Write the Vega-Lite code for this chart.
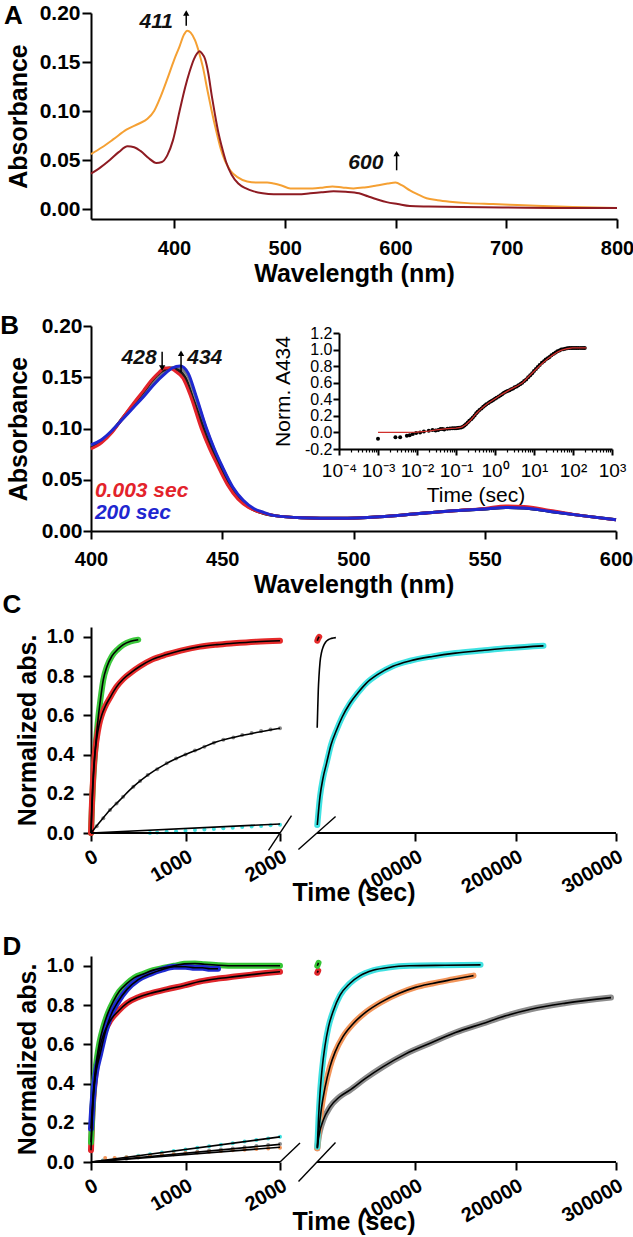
{
  "$schema": "https://vega.github.io/schema/vega-lite/v6.json",
  "width": 633,
  "height": 1237,
  "autosize": {"type": "none"},
  "padding": 0,
  "background": "white",
  "config": {
    "font": "Liberation Sans",
    "view": {"stroke": null},
    "axis": {
      "grid": false, "domainColor": "#000", "domainWidth": 2, "tickColor": "#000", "tickWidth": 2, "tickSize": 8,
      "labelColor": "#000", "titleColor": "#000", "labelFont": "Liberation Sans", "titleFont": "Liberation Sans",
      "labelFontWeight": "bold", "titleFontWeight": "bold", "labelFontSize": 20, "titleFontSize": 25,
      "labelOverlap": false, "labelFlush": false, "labelPadding": 2, "titlePadding": 4
    }
  },
  "datasets": {
    "specA": [
      {"s":"orange","nm":325,"abs":0.056},{"s":"orange","nm":335,"abs":0.063},{"s":"orange","nm":345,"abs":0.071},{"s":"orange","nm":357,"abs":0.081},{"s":"orange","nm":368,"abs":0.087},{"s":"orange","nm":376,"abs":0.092},{"s":"orange","nm":382,"abs":0.100},{"s":"orange","nm":388,"abs":0.115},{"s":"orange","nm":394,"abs":0.133},{"s":"orange","nm":400,"abs":0.152},{"s":"orange","nm":405,"abs":0.166},{"s":"orange","nm":409,"abs":0.178},{"s":"orange","nm":412,"abs":0.182},{"s":"orange","nm":415,"abs":0.180},{"s":"orange","nm":419,"abs":0.172},{"s":"orange","nm":423,"abs":0.158},{"s":"orange","nm":426,"abs":0.145},{"s":"orange","nm":430,"abs":0.122},{"s":"orange","nm":434,"abs":0.100},{"s":"orange","nm":438,"abs":0.080},{"s":"orange","nm":442,"abs":0.062},{"s":"orange","nm":446,"abs":0.049},{"s":"orange","nm":451,"abs":0.039},{"s":"orange","nm":458,"abs":0.032},{"s":"orange","nm":466,"abs":0.028},{"s":"orange","nm":475,"abs":0.027},{"s":"orange","nm":484,"abs":0.027},{"s":"orange","nm":490,"abs":0.026},{"s":"orange","nm":497,"abs":0.024},{"s":"orange","nm":505,"abs":0.021},{"s":"orange","nm":515,"abs":0.021},{"s":"orange","nm":525,"abs":0.021},{"s":"orange","nm":535,"abs":0.022},{"s":"orange","nm":543,"abs":0.023},{"s":"orange","nm":552,"abs":0.022},{"s":"orange","nm":562,"abs":0.021},{"s":"orange","nm":572,"abs":0.022},{"s":"orange","nm":583,"abs":0.024},{"s":"orange","nm":593,"abs":0.026},{"s":"orange","nm":600,"abs":0.027},{"s":"orange","nm":606,"abs":0.024},{"s":"orange","nm":613,"abs":0.019},{"s":"orange","nm":620,"abs":0.015},{"s":"orange","nm":628,"abs":0.011},{"s":"orange","nm":638,"abs":0.009},{"s":"orange","nm":649,"abs":0.0075},{"s":"orange","nm":665,"abs":0.006},{"s":"orange","nm":688,"abs":0.005},{"s":"orange","nm":710,"abs":0.004},{"s":"orange","nm":733,"abs":0.003},{"s":"orange","nm":760,"abs":0.002},{"s":"orange","nm":800,"abs":0.001},
      {"s":"darkred","nm":325,"abs":0.036},{"s":"darkred","nm":333,"abs":0.042},{"s":"darkred","nm":342,"abs":0.050},{"s":"darkred","nm":350,"abs":0.058},{"s":"darkred","nm":358,"abs":0.064},{"s":"darkred","nm":364,"abs":0.063},{"s":"darkred","nm":370,"abs":0.059},{"s":"darkred","nm":377,"abs":0.052},{"s":"darkred","nm":384,"abs":0.047},{"s":"darkred","nm":389,"abs":0.048},{"s":"darkred","nm":394,"abs":0.055},{"s":"darkred","nm":399,"abs":0.070},{"s":"darkred","nm":405,"abs":0.100},{"s":"darkred","nm":410,"abs":0.124},{"s":"darkred","nm":414,"abs":0.140},{"s":"darkred","nm":418,"abs":0.153},{"s":"darkred","nm":421,"abs":0.159},{"s":"darkred","nm":423,"abs":0.161},{"s":"darkred","nm":425,"abs":0.159},{"s":"darkred","nm":428,"abs":0.153},{"s":"darkred","nm":431,"abs":0.138},{"s":"darkred","nm":434,"abs":0.116},{"s":"darkred","nm":437,"abs":0.096},{"s":"darkred","nm":440,"abs":0.078},{"s":"darkred","nm":443,"abs":0.064},{"s":"darkred","nm":447,"abs":0.048},{"s":"darkred","nm":452,"abs":0.035},{"s":"darkred","nm":458,"abs":0.026},{"s":"darkred","nm":465,"abs":0.021},{"s":"darkred","nm":472,"abs":0.018},{"s":"darkred","nm":480,"abs":0.016},{"s":"darkred","nm":490,"abs":0.015},{"s":"darkred","nm":500,"abs":0.015},{"s":"darkred","nm":512,"abs":0.015},{"s":"darkred","nm":523,"abs":0.016},{"s":"darkred","nm":533,"abs":0.017},{"s":"darkred","nm":544,"abs":0.018},{"s":"darkred","nm":555,"abs":0.0175},{"s":"darkred","nm":567,"abs":0.016},{"s":"darkred","nm":575,"abs":0.013},{"s":"darkred","nm":583,"abs":0.010},{"s":"darkred","nm":592,"abs":0.007},{"s":"darkred","nm":602,"abs":0.005},{"s":"darkred","nm":613,"abs":0.003},{"s":"darkred","nm":630,"abs":0.0025},{"s":"darkred","nm":660,"abs":0.002},{"s":"darkred","nm":700,"abs":0.0015},{"s":"darkred","nm":750,"abs":0.001},{"s":"darkred","nm":800,"abs":0.001}
    ],
    "specB": [
      {"s":"t4","nm":400,"abs":0.083},{"s":"t4","nm":404,"abs":0.088},{"s":"t4","nm":408,"abs":0.098},{"s":"t4","nm":412,"abs":0.109},{"s":"t4","nm":416,"abs":0.121},{"s":"t4","nm":420,"abs":0.132},{"s":"t4","nm":424,"abs":0.144},{"s":"t4","nm":428,"abs":0.154},{"s":"t4","nm":431,"abs":0.159},{"s":"t4","nm":433,"abs":0.160},{"s":"t4","nm":436,"abs":0.156},{"s":"t4","nm":439,"abs":0.138},{"s":"t4","nm":443,"abs":0.105},{"s":"t4","nm":446,"abs":0.084},{"s":"t4","nm":449,"abs":0.067},{"s":"t4","nm":453,"abs":0.046},{"s":"t4","nm":457,"abs":0.031},{"s":"t4","nm":461,"abs":0.022},{"s":"t4","nm":466,"abs":0.017},{"s":"t4","nm":470,"abs":0.015},{"s":"t4","nm":480,"abs":0.013},{"s":"t4","nm":495,"abs":0.0125},{"s":"t4","nm":510,"abs":0.014},{"s":"t4","nm":525,"abs":0.017},{"s":"t4","nm":540,"abs":0.020},{"s":"t4","nm":550,"abs":0.0215},{"s":"t4","nm":558,"abs":0.023},{"s":"t4","nm":565,"abs":0.0225},{"s":"t4","nm":575,"abs":0.019},{"s":"t4","nm":587,"abs":0.015},{"s":"t4","nm":600,"abs":0.011},
      {"s":"t3","nm":400,"abs":0.082},{"s":"t3","nm":404,"abs":0.088},{"s":"t3","nm":408,"abs":0.097},{"s":"t3","nm":412,"abs":0.110},{"s":"t3","nm":416,"abs":0.122},{"s":"t3","nm":420,"abs":0.134},{"s":"t3","nm":424,"abs":0.146},{"s":"t3","nm":428,"abs":0.155},{"s":"t3","nm":431,"abs":0.159},{"s":"t3","nm":434,"abs":0.158},{"s":"t3","nm":437,"abs":0.151},{"s":"t3","nm":440,"abs":0.130},{"s":"t3","nm":444,"abs":0.099},{"s":"t3","nm":447,"abs":0.079},{"s":"t3","nm":450,"abs":0.062},{"s":"t3","nm":454,"abs":0.042},{"s":"t3","nm":458,"abs":0.029},{"s":"t3","nm":462,"abs":0.021},{"s":"t3","nm":466,"abs":0.017},{"s":"t3","nm":470,"abs":0.015},{"s":"t3","nm":480,"abs":0.013},{"s":"t3","nm":495,"abs":0.0125},{"s":"t3","nm":510,"abs":0.014},{"s":"t3","nm":525,"abs":0.017},{"s":"t3","nm":540,"abs":0.020},{"s":"t3","nm":550,"abs":0.0215},{"s":"t3","nm":558,"abs":0.023},{"s":"t3","nm":565,"abs":0.0225},{"s":"t3","nm":575,"abs":0.019},{"s":"t3","nm":587,"abs":0.015},{"s":"t3","nm":600,"abs":0.011},
      {"s":"t2","nm":400,"abs":0.081},{"s":"t2","nm":404,"abs":0.087},{"s":"t2","nm":408,"abs":0.097},{"s":"t2","nm":412,"abs":0.110},{"s":"t2","nm":416,"abs":0.123},{"s":"t2","nm":420,"abs":0.136},{"s":"t2","nm":424,"abs":0.149},{"s":"t2","nm":427,"abs":0.156},{"s":"t2","nm":430,"abs":0.159},{"s":"t2","nm":433,"abs":0.157},{"s":"t2","nm":436,"abs":0.149},{"s":"t2","nm":439,"abs":0.128},{"s":"t2","nm":443,"abs":0.099},{"s":"t2","nm":446,"abs":0.080},{"s":"t2","nm":449,"abs":0.064},{"s":"t2","nm":453,"abs":0.044},{"s":"t2","nm":457,"abs":0.030},{"s":"t2","nm":461,"abs":0.022},{"s":"t2","nm":466,"abs":0.017},{"s":"t2","nm":470,"abs":0.015},{"s":"t2","nm":480,"abs":0.013},{"s":"t2","nm":495,"abs":0.0125},{"s":"t2","nm":510,"abs":0.014},{"s":"t2","nm":525,"abs":0.017},{"s":"t2","nm":540,"abs":0.020},{"s":"t2","nm":550,"abs":0.0215},{"s":"t2","nm":558,"abs":0.023},{"s":"t2","nm":565,"abs":0.0225},{"s":"t2","nm":575,"abs":0.019},{"s":"t2","nm":587,"abs":0.015},{"s":"t2","nm":600,"abs":0.011},
      {"s":"0.003 sec","nm":400,"abs":0.080},{"s":"0.003 sec","nm":404,"abs":0.086},{"s":"0.003 sec","nm":408,"abs":0.096},{"s":"0.003 sec","nm":412,"abs":0.110},{"s":"0.003 sec","nm":416,"abs":0.124},{"s":"0.003 sec","nm":420,"abs":0.137},{"s":"0.003 sec","nm":423,"abs":0.147},{"s":"0.003 sec","nm":426,"abs":0.155},{"s":"0.003 sec","nm":428,"abs":0.159},{"s":"0.003 sec","nm":430,"abs":0.159},{"s":"0.003 sec","nm":432,"abs":0.156},{"s":"0.003 sec","nm":435,"abs":0.149},{"s":"0.003 sec","nm":438,"abs":0.131},{"s":"0.003 sec","nm":442,"abs":0.100},{"s":"0.003 sec","nm":445,"abs":0.081},{"s":"0.003 sec","nm":448,"abs":0.065},{"s":"0.003 sec","nm":452,"abs":0.045},{"s":"0.003 sec","nm":456,"abs":0.031},{"s":"0.003 sec","nm":460,"abs":0.023},{"s":"0.003 sec","nm":465,"abs":0.018},{"s":"0.003 sec","nm":470,"abs":0.015},{"s":"0.003 sec","nm":480,"abs":0.013},{"s":"0.003 sec","nm":495,"abs":0.0125},{"s":"0.003 sec","nm":510,"abs":0.014},{"s":"0.003 sec","nm":525,"abs":0.017},{"s":"0.003 sec","nm":540,"abs":0.020},{"s":"0.003 sec","nm":550,"abs":0.022},{"s":"0.003 sec","nm":558,"abs":0.0245},{"s":"0.003 sec","nm":565,"abs":0.024},{"s":"0.003 sec","nm":575,"abs":0.020},{"s":"0.003 sec","nm":587,"abs":0.015},{"s":"0.003 sec","nm":600,"abs":0.011},
      {"s":"200 sec","nm":400,"abs":0.084},{"s":"200 sec","nm":404,"abs":0.089},{"s":"200 sec","nm":408,"abs":0.098},{"s":"200 sec","nm":412,"abs":0.109},{"s":"200 sec","nm":416,"abs":0.120},{"s":"200 sec","nm":420,"abs":0.131},{"s":"200 sec","nm":424,"abs":0.143},{"s":"200 sec","nm":428,"abs":0.153},{"s":"200 sec","nm":431,"abs":0.159},{"s":"200 sec","nm":434,"abs":0.161},{"s":"200 sec","nm":437,"abs":0.154},{"s":"200 sec","nm":440,"abs":0.132},{"s":"200 sec","nm":444,"abs":0.100},{"s":"200 sec","nm":447,"abs":0.080},{"s":"200 sec","nm":450,"abs":0.063},{"s":"200 sec","nm":454,"abs":0.043},{"s":"200 sec","nm":458,"abs":0.030},{"s":"200 sec","nm":462,"abs":0.022},{"s":"200 sec","nm":466,"abs":0.018},{"s":"200 sec","nm":470,"abs":0.015},{"s":"200 sec","nm":480,"abs":0.013},{"s":"200 sec","nm":495,"abs":0.0125},{"s":"200 sec","nm":510,"abs":0.014},{"s":"200 sec","nm":525,"abs":0.017},{"s":"200 sec","nm":540,"abs":0.020},{"s":"200 sec","nm":550,"abs":0.0215},{"s":"200 sec","nm":558,"abs":0.023},{"s":"200 sec","nm":565,"abs":0.0225},{"s":"200 sec","nm":575,"abs":0.019},{"s":"200 sec","nm":587,"abs":0.015},{"s":"200 sec","nm":600,"abs":0.011}
    ],
    "insetPts": [
      {"time":0.001,"norm":-0.075},{"time":0.0028,"norm":-0.057},{"time":0.0037,"norm":-0.057},{"time":0.0055,"norm":-0.04},{"time":0.0065,"norm":-0.033},{"time":0.0078,"norm":-0.02},{"time":0.0095,"norm":-0.008},{"time":0.012,"norm":0.0},{"time":0.015,"norm":0.01},{"time":0.02,"norm":0.02},{"time":0.025,"norm":0.03},{"time":0.03,"norm":0.022},{"time":0.035,"norm":0.03},{"time":0.04,"norm":0.04},{"time":0.045,"norm":0.04},{"time":0.05,"norm":0.035},{"time":0.06,"norm":0.045},{"time":0.07,"norm":0.048},{"time":0.08,"norm":0.05},{"time":0.09,"norm":0.05},{"time":0.1,"norm":0.05},{"time":0.11,"norm":0.052},{"time":0.12,"norm":0.055},{"time":0.135,"norm":0.06},{"time":0.15,"norm":0.07},{"time":0.165,"norm":0.085},{"time":0.18,"norm":0.1},{"time":0.2,"norm":0.12},{"time":0.22,"norm":0.14},{"time":0.245,"norm":0.16},{"time":0.27,"norm":0.18},{"time":0.3,"norm":0.205},{"time":0.33,"norm":0.23},{"time":0.36,"norm":0.25},{"time":0.4,"norm":0.27},{"time":0.45,"norm":0.29},{"time":0.5,"norm":0.31},{"time":0.55,"norm":0.325},{"time":0.6,"norm":0.34},{"time":0.68,"norm":0.355},{"time":0.75,"norm":0.37},{"time":0.82,"norm":0.38},{"time":0.9,"norm":0.39},{"time":1.0,"norm":0.405},{"time":1.1,"norm":0.42},{"time":1.25,"norm":0.435},{"time":1.4,"norm":0.45},{"time":1.55,"norm":0.465},{"time":1.7,"norm":0.48},{"time":1.9,"norm":0.49},{"time":2.1,"norm":0.5},{"time":2.35,"norm":0.51},{"time":2.6,"norm":0.52},{"time":2.9,"norm":0.53},{"time":3.2,"norm":0.545},{"time":3.6,"norm":0.555},{"time":4,"norm":0.57},{"time":4.5,"norm":0.585},{"time":5,"norm":0.6},{"time":5.6,"norm":0.62},{"time":6.3,"norm":0.64},{"time":7.1,"norm":0.665},{"time":8,"norm":0.69},{"time":9,"norm":0.715},{"time":10,"norm":0.74},{"time":11.2,"norm":0.765},{"time":12.5,"norm":0.79},{"time":14,"norm":0.815},{"time":16,"norm":0.84},{"time":18,"norm":0.86},{"time":20,"norm":0.88},{"time":22.5,"norm":0.895},{"time":25,"norm":0.91},{"time":28,"norm":0.93},{"time":32,"norm":0.95},{"time":36,"norm":0.965},{"time":40,"norm":0.98},{"time":45,"norm":0.99},{"time":50,"norm":1.0},{"time":56,"norm":1.005},{"time":63,"norm":1.01},{"time":71,"norm":1.015},{"time":80,"norm":1.02},{"time":90,"norm":1.02},{"time":100,"norm":1.02},{"time":112,"norm":1.02},{"time":125,"norm":1.02},{"time":140,"norm":1.02},{"time":160,"norm":1.02},{"time":180,"norm":1.02},{"time":200,"norm":1.02}
    ],
    "insetFit": [
      {"time":0.001,"norm":0.0},{"time":0.005,"norm":0.0},{"time":0.0095,"norm":0.003},{"time":0.02,"norm":0.015},{"time":0.031,"norm":0.03},{"time":0.06,"norm":0.045},{"time":0.1,"norm":0.052},{"time":0.14,"norm":0.065},{"time":0.18,"norm":0.095},{"time":0.24,"norm":0.15},{"time":0.32,"norm":0.22},{"time":0.45,"norm":0.29},{"time":0.65,"norm":0.35},{"time":0.96,"norm":0.40},{"time":1.5,"norm":0.46},{"time":2.3,"norm":0.51},{"time":3.5,"norm":0.555},{"time":5.1,"norm":0.60},{"time":7,"norm":0.665},{"time":9.6,"norm":0.73},{"time":13,"norm":0.79},{"time":16.5,"norm":0.835},{"time":22,"norm":0.885},{"time":29.7,"norm":0.93},{"time":40,"norm":0.97},{"time":49,"norm":0.99},{"time":70,"norm":1.01},{"time":96,"norm":1.02},{"time":150,"norm":1.02},{"time":220,"norm":1.02}
    ],
    "kinC": [
      {"s":"green","seg":"L","k":"band","t":0,"v":0.0},{"s":"green","seg":"L","k":"band","t":10,"v":0.13},{"s":"green","seg":"L","k":"band","t":20,"v":0.24},{"s":"green","seg":"L","k":"band","t":35,"v":0.36},{"s":"green","seg":"L","k":"band","t":50,"v":0.45},{"s":"green","seg":"L","k":"band","t":77,"v":0.59},{"s":"green","seg":"L","k":"band","t":100,"v":0.68},{"s":"green","seg":"L","k":"band","t":130,"v":0.78},{"s":"green","seg":"L","k":"band","t":170,"v":0.85},{"s":"green","seg":"L","k":"band","t":219,"v":0.90},{"s":"green","seg":"L","k":"band","t":280,"v":0.935},{"s":"green","seg":"L","k":"band","t":342,"v":0.96},{"s":"green","seg":"L","k":"band","t":420,"v":0.977},{"s":"green","seg":"L","k":"band","t":500,"v":0.985},
      {"s":"red","seg":"L","k":"band","t":0,"v":0.0},{"s":"red","seg":"L","k":"band","t":10,"v":0.15},{"s":"red","seg":"L","k":"band","t":25,"v":0.30},{"s":"red","seg":"L","k":"band","t":40,"v":0.40},{"s":"red","seg":"L","k":"band","t":60,"v":0.48},{"s":"red","seg":"L","k":"band","t":85,"v":0.55},{"s":"red","seg":"L","k":"band","t":113,"v":0.60},{"s":"red","seg":"L","k":"band","t":150,"v":0.645},{"s":"red","seg":"L","k":"band","t":201,"v":0.69},{"s":"red","seg":"L","k":"band","t":270,"v":0.745},{"s":"red","seg":"L","k":"band","t":342,"v":0.785},{"s":"red","seg":"L","k":"band","t":430,"v":0.82},{"s":"red","seg":"L","k":"band","t":519,"v":0.85},{"s":"red","seg":"L","k":"band","t":650,"v":0.885},{"s":"red","seg":"L","k":"band","t":800,"v":0.91},{"s":"red","seg":"L","k":"band","t":950,"v":0.93},{"s":"red","seg":"L","k":"band","t":1153,"v":0.95},{"s":"red","seg":"L","k":"band","t":1330,"v":0.96},{"s":"red","seg":"L","k":"band","t":1506,"v":0.967},{"s":"red","seg":"L","k":"band","t":1750,"v":0.975},{"s":"red","seg":"L","k":"band","t":2000,"v":0.98},
      {"s":"red","seg":"R","k":"band","t":2300,"v":0.98},{"s":"red","seg":"R","k":"band","t":3000,"v":0.99},{"s":"red","seg":"R","k":"band","t":4200,"v":1.0},
      {"s":"gray","seg":"L","k":"dots","t":60,"v":0.035},{"s":"gray","seg":"L","k":"dots","t":130,"v":0.075},{"s":"gray","seg":"L","k":"dots","t":201,"v":0.117},{"s":"gray","seg":"L","k":"dots","t":270,"v":0.15},{"s":"gray","seg":"L","k":"dots","t":340,"v":0.185},{"s":"gray","seg":"L","k":"dots","t":448,"v":0.236},{"s":"gray","seg":"L","k":"dots","t":520,"v":0.265},{"s":"gray","seg":"L","k":"dots","t":600,"v":0.295},{"s":"gray","seg":"L","k":"dots","t":700,"v":0.325},{"s":"gray","seg":"L","k":"dots","t":801,"v":0.355},{"s":"gray","seg":"L","k":"dots","t":900,"v":0.38},{"s":"gray","seg":"L","k":"dots","t":1000,"v":0.40},{"s":"gray","seg":"L","k":"dots","t":1100,"v":0.42},{"s":"gray","seg":"L","k":"dots","t":1200,"v":0.44},{"s":"gray","seg":"L","k":"dots","t":1300,"v":0.46},{"s":"gray","seg":"L","k":"dots","t":1400,"v":0.475},{"s":"gray","seg":"L","k":"dots","t":1506,"v":0.487},{"s":"gray","seg":"L","k":"dots","t":1600,"v":0.50},{"s":"gray","seg":"L","k":"dots","t":1700,"v":0.51},{"s":"gray","seg":"L","k":"dots","t":1800,"v":0.52},{"s":"gray","seg":"L","k":"dots","t":1900,"v":0.527},{"s":"gray","seg":"L","k":"dots","t":2000,"v":0.534},
      {"s":"gray","seg":"L","k":"fit","t":0,"v":0.0},{"s":"gray","seg":"L","k":"fit","t":100,"v":0.06},{"s":"gray","seg":"L","k":"fit","t":201,"v":0.117},{"s":"gray","seg":"L","k":"fit","t":300,"v":0.165},{"s":"gray","seg":"L","k":"fit","t":448,"v":0.236},{"s":"gray","seg":"L","k":"fit","t":600,"v":0.295},{"s":"gray","seg":"L","k":"fit","t":801,"v":0.355},{"s":"gray","seg":"L","k":"fit","t":1000,"v":0.40},{"s":"gray","seg":"L","k":"fit","t":1153,"v":0.43},{"s":"gray","seg":"L","k":"fit","t":1300,"v":0.46},{"s":"gray","seg":"L","k":"fit","t":1506,"v":0.487},{"s":"gray","seg":"L","k":"fit","t":1750,"v":0.512},{"s":"gray","seg":"L","k":"fit","t":2000,"v":0.534},
      {"s":"gray","seg":"R","k":"fit","t":2200,"v":0.536},{"s":"gray","seg":"R","k":"fit","t":2600,"v":0.61},{"s":"gray","seg":"R","k":"fit","t":3300,"v":0.73},{"s":"gray","seg":"R","k":"fit","t":4000,"v":0.80},{"s":"gray","seg":"R","k":"fit","t":5000,"v":0.87},{"s":"gray","seg":"R","k":"fit","t":6500,"v":0.92},{"s":"gray","seg":"R","k":"fit","t":8250,"v":0.95},{"s":"gray","seg":"R","k":"fit","t":10500,"v":0.972},{"s":"gray","seg":"R","k":"fit","t":13200,"v":0.985},{"s":"gray","seg":"R","k":"fit","t":16500,"v":0.992},{"s":"gray","seg":"R","k":"fit","t":20800,"v":0.996},
      {"s":"cyan","seg":"L","k":"dots","t":624,"v":0.0},{"s":"cyan","seg":"L","k":"dots","t":700,"v":0.003},{"s":"cyan","seg":"L","k":"dots","t":800,"v":0.006},{"s":"cyan","seg":"L","k":"dots","t":900,"v":0.009},{"s":"cyan","seg":"L","k":"dots","t":1000,"v":0.012},{"s":"cyan","seg":"L","k":"dots","t":1100,"v":0.015},{"s":"cyan","seg":"L","k":"dots","t":1200,"v":0.018},{"s":"cyan","seg":"L","k":"dots","t":1300,"v":0.021},{"s":"cyan","seg":"L","k":"dots","t":1400,"v":0.024},{"s":"cyan","seg":"L","k":"dots","t":1500,"v":0.027},{"s":"cyan","seg":"L","k":"dots","t":1600,"v":0.03},{"s":"cyan","seg":"L","k":"dots","t":1700,"v":0.033},{"s":"cyan","seg":"L","k":"dots","t":1800,"v":0.036},{"s":"cyan","seg":"L","k":"dots","t":1900,"v":0.039},{"s":"cyan","seg":"L","k":"dots","t":2000,"v":0.042},
      {"s":"cyan","seg":"L","k":"fit","t":0,"v":0.0},{"s":"cyan","seg":"L","k":"fit","t":2000,"v":0.046},
      {"s":"cyan","seg":"R","k":"band","t":2300,"v":0.041},{"s":"cyan","seg":"R","k":"band","t":3500,"v":0.11},{"s":"cyan","seg":"R","k":"band","t":5000,"v":0.185},{"s":"cyan","seg":"R","k":"band","t":8000,"v":0.28},{"s":"cyan","seg":"R","k":"band","t":11500,"v":0.355},{"s":"cyan","seg":"R","k":"band","t":16000,"v":0.45},{"s":"cyan","seg":"R","k":"band","t":21500,"v":0.525},{"s":"cyan","seg":"R","k":"band","t":27000,"v":0.59},{"s":"cyan","seg":"R","k":"band","t":34700,"v":0.66},{"s":"cyan","seg":"R","k":"band","t":42000,"v":0.71},{"s":"cyan","seg":"R","k":"band","t":51000,"v":0.763},{"s":"cyan","seg":"R","k":"band","t":63000,"v":0.81},{"s":"cyan","seg":"R","k":"band","t":77500,"v":0.85},{"s":"cyan","seg":"R","k":"band","t":95000,"v":0.878},{"s":"cyan","seg":"R","k":"band","t":117000,"v":0.90},{"s":"cyan","seg":"R","k":"band","t":140000,"v":0.917},{"s":"cyan","seg":"R","k":"band","t":166600,"v":0.93},{"s":"cyan","seg":"R","k":"band","t":195000,"v":0.943},{"s":"cyan","seg":"R","k":"band","t":227700,"v":0.954}
    ],
    "kinD": [
      {"s":"red","seg":"L","k":"band","t":0,"v":0.06},{"s":"red","seg":"L","k":"band","t":15,"v":0.25},{"s":"red","seg":"L","k":"band","t":30,"v":0.36},{"s":"red","seg":"L","k":"band","t":43,"v":0.43},{"s":"red","seg":"L","k":"band","t":70,"v":0.52},{"s":"red","seg":"L","k":"band","t":96,"v":0.59},{"s":"red","seg":"L","k":"band","t":140,"v":0.66},{"s":"red","seg":"L","k":"band","t":203,"v":0.72},{"s":"red","seg":"L","k":"band","t":290,"v":0.77},{"s":"red","seg":"L","k":"band","t":381,"v":0.81},{"s":"red","seg":"L","k":"band","t":500,"v":0.84},{"s":"red","seg":"L","k":"band","t":631,"v":0.86},{"s":"red","seg":"L","k":"band","t":800,"v":0.88},{"s":"red","seg":"L","k":"band","t":987,"v":0.90},{"s":"red","seg":"L","k":"band","t":1150,"v":0.92},{"s":"red","seg":"L","k":"band","t":1344,"v":0.935},{"s":"red","seg":"L","k":"band","t":1520,"v":0.945},{"s":"red","seg":"L","k":"band","t":1700,"v":0.955},{"s":"red","seg":"L","k":"band","t":1850,"v":0.963},{"s":"red","seg":"L","k":"band","t":2000,"v":0.97},
      {"s":"red","seg":"R","k":"band","t":2300,"v":0.965},{"s":"red","seg":"R","k":"band","t":3200,"v":0.975},
      {"s":"green","seg":"L","k":"band","t":0,"v":0.10},{"s":"green","seg":"L","k":"band","t":10,"v":0.2},{"s":"green","seg":"L","k":"band","t":25,"v":0.35},{"s":"green","seg":"L","k":"band","t":40,"v":0.44},{"s":"green","seg":"L","k":"band","t":60,"v":0.52},{"s":"green","seg":"L","k":"band","t":90,"v":0.61},{"s":"green","seg":"L","k":"band","t":131,"v":0.69},{"s":"green","seg":"L","k":"band","t":180,"v":0.76},{"s":"green","seg":"L","k":"band","t":238,"v":0.82},{"s":"green","seg":"L","k":"band","t":300,"v":0.87},{"s":"green","seg":"L","k":"band","t":381,"v":0.91},{"s":"green","seg":"L","k":"band","t":460,"v":0.94},{"s":"green","seg":"L","k":"band","t":560,"v":0.96},{"s":"green","seg":"L","k":"band","t":660,"v":0.978},{"s":"green","seg":"L","k":"band","t":773,"v":0.99},{"s":"green","seg":"L","k":"band","t":880,"v":1.0},{"s":"green","seg":"L","k":"band","t":987,"v":1.01},{"s":"green","seg":"L","k":"band","t":1100,"v":1.012},{"s":"green","seg":"L","k":"band","t":1200,"v":1.008},{"s":"green","seg":"L","k":"band","t":1350,"v":1.003},{"s":"green","seg":"L","k":"band","t":1520,"v":1.0},{"s":"green","seg":"L","k":"band","t":1750,"v":1.0},{"s":"green","seg":"L","k":"band","t":2000,"v":1.0},
      {"s":"green","seg":"R","k":"band","t":2300,"v":1.0},{"s":"green","seg":"R","k":"band","t":3500,"v":1.015},
      {"s":"blue","seg":"L","k":"band","t":0,"v":0.17},{"s":"blue","seg":"L","k":"band","t":10,"v":0.25},{"s":"blue","seg":"L","k":"band","t":25,"v":0.35},{"s":"blue","seg":"L","k":"band","t":50,"v":0.45},{"s":"blue","seg":"L","k":"band","t":96,"v":0.55},{"s":"blue","seg":"L","k":"band","t":150,"v":0.66},{"s":"blue","seg":"L","k":"band","t":203,"v":0.74},{"s":"blue","seg":"L","k":"band","t":290,"v":0.82},{"s":"blue","seg":"L","k":"band","t":381,"v":0.88},{"s":"blue","seg":"L","k":"band","t":500,"v":0.93},{"s":"blue","seg":"L","k":"band","t":631,"v":0.96},{"s":"blue","seg":"L","k":"band","t":750,"v":0.98},{"s":"blue","seg":"L","k":"band","t":880,"v":0.995},{"s":"blue","seg":"L","k":"band","t":1000,"v":0.995},{"s":"blue","seg":"L","k":"band","t":1100,"v":0.99},{"s":"blue","seg":"L","k":"band","t":1180,"v":0.99},{"s":"blue","seg":"L","k":"band","t":1260,"v":0.985},{"s":"blue","seg":"L","k":"band","t":1344,"v":0.985},
      {"s":"cyan","seg":"L","k":"dots","t":125,"v":0.008},{"s":"cyan","seg":"L","k":"dots","t":250,"v":0.016},{"s":"cyan","seg":"L","k":"dots","t":375,"v":0.024},{"s":"cyan","seg":"L","k":"dots","t":500,"v":0.032},{"s":"cyan","seg":"L","k":"dots","t":625,"v":0.040},{"s":"cyan","seg":"L","k":"dots","t":750,"v":0.048},{"s":"cyan","seg":"L","k":"dots","t":875,"v":0.056},{"s":"cyan","seg":"L","k":"dots","t":1000,"v":0.064},{"s":"cyan","seg":"L","k":"dots","t":1125,"v":0.072},{"s":"cyan","seg":"L","k":"dots","t":1250,"v":0.080},{"s":"cyan","seg":"L","k":"dots","t":1375,"v":0.088},{"s":"cyan","seg":"L","k":"dots","t":1500,"v":0.096},{"s":"cyan","seg":"L","k":"dots","t":1625,"v":0.104},{"s":"cyan","seg":"L","k":"dots","t":1750,"v":0.112},{"s":"cyan","seg":"L","k":"dots","t":1875,"v":0.12},{"s":"cyan","seg":"L","k":"dots","t":2000,"v":0.129},
      {"s":"cyan","seg":"L","k":"fit","t":0,"v":0.0},{"s":"cyan","seg":"L","k":"fit","t":2000,"v":0.128},
      {"s":"gray","seg":"L","k":"dots","t":125,"v":0.006},{"s":"gray","seg":"L","k":"dots","t":250,"v":0.011},{"s":"gray","seg":"L","k":"dots","t":375,"v":0.017},{"s":"gray","seg":"L","k":"dots","t":500,"v":0.023},{"s":"gray","seg":"L","k":"dots","t":625,"v":0.029},{"s":"gray","seg":"L","k":"dots","t":750,"v":0.035},{"s":"gray","seg":"L","k":"dots","t":875,"v":0.040},{"s":"gray","seg":"L","k":"dots","t":1000,"v":0.046},{"s":"gray","seg":"L","k":"dots","t":1125,"v":0.052},{"s":"gray","seg":"L","k":"dots","t":1250,"v":0.058},{"s":"gray","seg":"L","k":"dots","t":1375,"v":0.064},{"s":"gray","seg":"L","k":"dots","t":1500,"v":0.069},{"s":"gray","seg":"L","k":"dots","t":1625,"v":0.075},{"s":"gray","seg":"L","k":"dots","t":1750,"v":0.081},{"s":"gray","seg":"L","k":"dots","t":1875,"v":0.087},{"s":"gray","seg":"L","k":"dots","t":2000,"v":0.092},
      {"s":"gray","seg":"L","k":"fit","t":0,"v":0.0},{"s":"gray","seg":"L","k":"fit","t":2000,"v":0.09},
      {"s":"orange","seg":"L","k":"dots","t":150,"v":0.02},{"s":"orange","seg":"L","k":"dots","t":250,"v":0.02},{"s":"orange","seg":"L","k":"dots","t":375,"v":0.024},{"s":"orange","seg":"L","k":"dots","t":500,"v":0.028},{"s":"orange","seg":"L","k":"dots","t":625,"v":0.032},{"s":"orange","seg":"L","k":"dots","t":750,"v":0.036},{"s":"orange","seg":"L","k":"dots","t":875,"v":0.04},{"s":"orange","seg":"L","k":"dots","t":1000,"v":0.044},{"s":"orange","seg":"L","k":"dots","t":1125,"v":0.048},{"s":"orange","seg":"L","k":"dots","t":1250,"v":0.052},{"s":"orange","seg":"L","k":"dots","t":1375,"v":0.056},{"s":"orange","seg":"L","k":"dots","t":1500,"v":0.06},{"s":"orange","seg":"L","k":"dots","t":1625,"v":0.063},{"s":"orange","seg":"L","k":"dots","t":1750,"v":0.066},{"s":"orange","seg":"L","k":"dots","t":1875,"v":0.069},{"s":"orange","seg":"L","k":"dots","t":2000,"v":0.072},
      {"s":"orange","seg":"L","k":"fit","t":0,"v":0.0},{"s":"orange","seg":"L","k":"fit","t":2000,"v":0.075},
      {"s":"gray","seg":"R","k":"band","t":2300,"v":0.07},{"s":"gray","seg":"R","k":"band","t":3500,"v":0.12},{"s":"gray","seg":"R","k":"band","t":5000,"v":0.16},{"s":"gray","seg":"R","k":"band","t":8250,"v":0.214},{"s":"gray","seg":"R","k":"band","t":14900,"v":0.28},{"s":"gray","seg":"R","k":"band","t":24000,"v":0.33},{"s":"gray","seg":"R","k":"band","t":34700,"v":0.366},{"s":"gray","seg":"R","k":"band","t":50000,"v":0.425},{"s":"gray","seg":"R","k":"band","t":67600,"v":0.485},{"s":"gray","seg":"R","k":"band","t":90000,"v":0.55},{"s":"gray","seg":"R","k":"band","t":117000,"v":0.61},{"s":"gray","seg":"R","k":"band","t":140000,"v":0.66},{"s":"gray","seg":"R","k":"band","t":166600,"v":0.705},{"s":"gray","seg":"R","k":"band","t":190000,"v":0.745},{"s":"gray","seg":"R","k":"band","t":216000,"v":0.78},{"s":"gray","seg":"R","k":"band","t":250000,"v":0.81},{"s":"gray","seg":"R","k":"band","t":295000,"v":0.838},
      {"s":"orange","seg":"R","k":"band","t":2300,"v":0.07},{"s":"orange","seg":"R","k":"band","t":4000,"v":0.17},{"s":"orange","seg":"R","k":"band","t":6600,"v":0.28},{"s":"orange","seg":"R","k":"band","t":10000,"v":0.38},{"s":"orange","seg":"R","k":"band","t":14900,"v":0.485},{"s":"orange","seg":"R","k":"band","t":20000,"v":0.56},{"s":"orange","seg":"R","k":"band","t":28000,"v":0.64},{"s":"orange","seg":"R","k":"band","t":38000,"v":0.705},{"s":"orange","seg":"R","k":"band","t":51000,"v":0.765},{"s":"orange","seg":"R","k":"band","t":66000,"v":0.815},{"s":"orange","seg":"R","k":"band","t":84000,"v":0.86},{"s":"orange","seg":"R","k":"band","t":100000,"v":0.89},{"s":"orange","seg":"R","k":"band","t":117000,"v":0.91},{"s":"orange","seg":"R","k":"band","t":137000,"v":0.93},{"s":"orange","seg":"R","k":"band","t":158000,"v":0.95},
      {"s":"cyan","seg":"R","k":"band","t":2300,"v":0.078},{"s":"cyan","seg":"R","k":"band","t":3500,"v":0.22},{"s":"cyan","seg":"R","k":"band","t":5000,"v":0.35},{"s":"cyan","seg":"R","k":"band","t":7000,"v":0.47},{"s":"cyan","seg":"R","k":"band","t":9900,"v":0.59},{"s":"cyan","seg":"R","k":"band","t":13500,"v":0.69},{"s":"cyan","seg":"R","k":"band","t":18200,"v":0.77},{"s":"cyan","seg":"R","k":"band","t":25000,"v":0.85},{"s":"cyan","seg":"R","k":"band","t":34700,"v":0.91},{"s":"cyan","seg":"R","k":"band","t":45000,"v":0.95},{"s":"cyan","seg":"R","k":"band","t":57800,"v":0.977},{"s":"cyan","seg":"R","k":"band","t":75000,"v":0.993},{"s":"cyan","seg":"R","k":"band","t":94000,"v":1.0},{"s":"cyan","seg":"R","k":"band","t":130000,"v":1.003},{"s":"cyan","seg":"R","k":"band","t":165000,"v":1.005}
    ]
  },
  "layer": [
    {
      "layer": [
        {
          "data": {"name": "specA"},
          "mark": {"type": "line", "strokeWidth": 2, "interpolate": "monotone"},
          "encoding": {
            "x": {"field": "nm", "type": "quantitative",
              "scale": {"domain": [325, 800], "range": [91, 617], "nice": false, "zero": false},
              "axis": {"orient": "bottom", "offset": -1018, "values": [400, 500, 600, 700, 800], "title": "Wavelength (nm)", "labelFontSize": 20, "tickSize": 9, "labelPadding": 10, "titlePadding": 3}},
            "y": {"field": "abs", "type": "quantitative",
              "scale": {"domain": [-0.0102, 0.2], "range": [219, 13], "nice": false, "zero": false},
              "axis": {"orient": "left", "offset": -91, "values": [0, 0.05, 0.1, 0.15, 0.2], "format": ".2f", "title": "Absorbance", "labelFontSize": 21, "tickSize": 9, "labelPadding": 2, "titlePadding": 8}},
            "color": {"field": "s", "type": "nominal", "scale": {"domain": ["orange", "darkred"], "range": ["#f5a033", "#8e1b22"]}, "legend": null}
          }
        },
        {
          "data": {"values": [{"label": "411", "nm": 399, "abs": 0.191}, {"label": "600", "nm": 589, "abs": 0.047}]},
          "mark": {"type": "text", "fontSize": 21, "fontStyle": "italic", "fontWeight": "bold", "align": "right", "baseline": "middle", "color": "#111"},
          "encoding": {"x": {"field": "nm", "type": "quantitative"}, "y": {"field": "abs", "type": "quantitative"}, "text": {"field": "label"}}
        },
        {
          "data": {"values": [{"nm": 411, "abs": 0.187, "abs2": 0.2}, {"nm": 601, "abs": 0.0395, "abs2": 0.0565}]},
          "mark": {"type": "rule", "strokeWidth": 1.5, "color": "#000"},
          "encoding": {"x": {"field": "nm", "type": "quantitative"}, "y": {"field": "abs", "type": "quantitative"}, "y2": {"field": "abs2"}}
        },
        {
          "data": {"values": [{"nm": 411, "abs2": 0.2}, {"nm": 601, "abs2": 0.0565}]},
          "mark": {"type": "point", "shape": "triangle-up", "filled": true, "color": "#000", "size": 40, "opacity": 1},
          "encoding": {"x": {"field": "nm", "type": "quantitative"}, "y": {"field": "abs2", "type": "quantitative"}}
        },
        {
          "data": {"values": [{"label": "A", "nm": 255, "abs": 0.197}]},
          "mark": {"type": "text", "fontSize": 26, "fontWeight": "bold", "align": "center", "baseline": "middle", "color": "#000"},
          "encoding": {"x": {"field": "nm", "type": "quantitative"}, "y": {"field": "abs", "type": "quantitative"}, "text": {"field": "label"}}
        }
      ]
    },
    {
      "layer": [
        {
          "data": {"name": "specB"},
          "mark": {"type": "line", "strokeWidth": 3, "interpolate": "monotone"},
          "encoding": {
            "x": {"field": "nm", "type": "quantitative",
              "scale": {"domain": [400, 600], "range": [91, 616], "nice": false, "zero": false},
              "axis": {"orient": "bottom", "offset": -706, "values": [400, 450, 500, 550, 600], "title": "Wavelength (nm)", "labelFontSize": 20, "tickSize": 8, "labelPadding": 10, "titlePadding": 3}},
            "y": {"field": "abs", "type": "quantitative",
              "scale": {"domain": [0, 0.2], "range": [531, 326], "nice": false, "zero": false},
              "axis": {"orient": "left", "offset": -91, "values": [0, 0.05, 0.1, 0.15, 0.2], "format": ".2f", "title": "Absorbance", "labelFontSize": 21, "tickSize": 8, "labelPadding": 1, "titlePadding": 10}},
            "color": {"field": "s", "type": "nominal", "scale": {"domain": ["t4", "t3", "t2", "0.003 sec", "200 sec"], "range": ["#b4b4b4", "#7a7a7a", "#1a1a1a", "#e3232b", "#1f27d0"]}, "legend": null}
          }
        },
        {
          "data": {"values": [{"label": "428", "nm": 425.0, "abs": 0.169}, {"label": "434", "nm": 450.0, "abs": 0.169}]},
          "mark": {"type": "text", "fontSize": 21, "fontStyle": "italic", "fontWeight": "bold", "align": "right", "baseline": "middle", "color": "#111"},
          "encoding": {"x": {"field": "nm", "type": "quantitative"}, "y": {"field": "abs", "type": "quantitative"}, "text": {"field": "label"}}
        },
        {
          "data": {"values": [{"s": "0.003 sec", "label": "0.003 sec", "nm": 401.5, "abs": 0.039}, {"s": "200 sec", "label": "200 sec", "nm": 401.5, "abs": 0.018}]},
          "mark": {"type": "text", "fontSize": 21, "fontStyle": "italic", "fontWeight": "bold", "align": "left", "baseline": "middle"},
          "encoding": {"x": {"field": "nm", "type": "quantitative"}, "y": {"field": "abs", "type": "quantitative"}, "text": {"field": "label"}, "color": {"field": "s", "type": "nominal", "legend": null}}
        },
        {
          "data": {"values": [{"nm": 427.1, "abs": 0.1748, "abs2": 0.159, "dir": "down"}, {"nm": 434.3, "abs": 0.155, "abs2": 0.1735, "dir": "up"}]},
          "mark": {"type": "rule", "strokeWidth": 1.5, "color": "#000"},
          "encoding": {"x": {"field": "nm", "type": "quantitative"}, "y": {"field": "abs", "type": "quantitative"}, "y2": {"field": "abs2"}}
        },
        {
          "data": {"values": [{"nm": 427.1, "abs2": 0.159, "dir": "down"}, {"nm": 434.3, "abs2": 0.1735, "dir": "up"}]},
          "mark": {"type": "point", "filled": true, "color": "#000", "size": 40, "opacity": 1},
          "encoding": {"x": {"field": "nm", "type": "quantitative"}, "y": {"field": "abs2", "type": "quantitative"},
            "shape": {"field": "dir", "type": "nominal", "scale": {"domain": ["down", "up"], "range": ["triangle-down", "triangle-up"]}, "legend": null}}
        },
        {
          "data": {"values": [{"label": "B", "nm": 369, "abs": 0.2}]},
          "mark": {"type": "text", "fontSize": 26, "fontWeight": "bold", "align": "center", "baseline": "middle", "color": "#000"},
          "encoding": {"x": {"field": "nm", "type": "quantitative"}, "y": {"field": "abs", "type": "quantitative"}, "text": {"field": "label"}}
        }
      ]
    },
    {
      "layer": [
        {
          "data": {"name": "insetPts"},
          "mark": {"type": "point", "filled": true, "color": "#000", "size": 16, "opacity": 1},
          "encoding": {
            "x": {"field": "time", "type": "quantitative",
              "axis": {"orient": "bottom", "offset": -788, "values": [0.0002,0.0003,0.0004,0.0005,0.0006,0.0007,0.0008,0.0009,0.002,0.003,0.004,0.005,0.006,0.007,0.008,0.009,0.02,0.03,0.04,0.05,0.06,0.07,0.08,0.09,0.2,0.3,0.4,0.5,0.6,0.7,0.8,0.9,2,3,4,5,6,7,8,9,20,30,40,50,60,70,80,90,200,300,400,500,600,700,800,900], "labels": false, "domain": false, "tickSize": 3, "tickWidth": 1.2, "title": null}},
            "y": {"field": "norm", "type": "quantitative"}
          }
        },
        {
          "data": {"name": "insetFit"},
          "mark": {"type": "line", "color": "#d0302c", "strokeWidth": 1.3},
          "encoding": {
            "x": {"field": "time", "type": "quantitative",
              "scale": {"type": "log", "domain": [0.0001, 1000], "range": [339, 612], "nice": false},
              "axis": {"orient": "bottom", "offset": -788, "values": [0.0001, 0.001, 0.01, 0.1, 1, 10, 100, 1000],
                "labelExpr": "datum.value < 0.0005 ? '10⁻⁴' : datum.value < 0.005 ? '10⁻³' : datum.value < 0.05 ? '10⁻²' : datum.value < 0.5 ? '10⁻¹' : datum.value < 5 ? '10⁰' : datum.value < 50 ? '10¹' : datum.value < 500 ? '10²' : '10³'",
                "title": "Time (sec)", "labelFontWeight": "normal", "titleFontWeight": "normal", "labelFontSize": 19, "titleFontSize": 21, "tickSize": 6, "labelPadding": 6, "titlePadding": 4}},
            "y": {"field": "norm", "type": "quantitative",
              "scale": {"domain": [-0.2, 1.2], "range": [449, 333], "nice": false, "zero": false},
              "axis": {"orient": "left", "offset": -339, "values": [-0.2, 0, 0.2, 0.4, 0.6, 0.8, 1, 1.2],
                "labelExpr": "datum.value < 0 ? '-0.2' : format(datum.value, '.1f')",
                "title": "Norm. A434", "labelFontWeight": "normal", "titleFontWeight": "normal", "labelFontSize": 16, "titleFontSize": 21, "tickSize": 6, "labelPadding": 1, "titlePadding": 11}}
          }
        }
      ],
      "resolve": {"axis": {"x": "independent"}}
    },
    {
      "layer": [
        {
          "data": {"name": "kinC"},
          "transform": [{"filter": "datum.k === 'band'"}],
          "mark": {"type": "line", "strokeWidth": 6, "strokeCap": "round", "interpolate": "monotone"},
          "encoding": {
            "x": {"field": "t", "type": "quantitative",
              "scale": {"domain": [0, 2000, 2001, 300000], "range": [91, 280, 317, 616], "nice": false, "zero": false},
              "axis": {"orient": "bottom", "offset": -404, "values": [0, 1000, 2000, 100000, 200000, 300000], "format": "d", "labelAngle": -30, "labelAlign": "right", "labelBaseline": "top", "domain": false, "title": "Time (sec)", "labelPadding": 5, "titlePadding": -16}},
            "y": {"field": "v", "type": "quantitative",
              "scale": {"domain": [0, 1.05], "range": [833, 627], "nice": false, "zero": false},
              "axis": {"orient": "left", "offset": -91, "values": [0, 0.2, 0.4, 0.6, 0.8, 1], "format": ".1f", "title": "Normalized abs.", "labelPadding": 9, "titlePadding": 6}},
            "color": {"field": "s", "type": "nominal", "scale": {"domain": ["green", "red", "gray", "cyan"], "range": ["#3cc83c", "#e52a2a", "#8a8a8a", "#3fe2e2"]}, "legend": null},
            "detail": {"field": "seg"}
          }
        },
        {
          "data": {"name": "kinC"},
          "transform": [{"filter": "datum.k === 'dots'"}],
          "mark": {"type": "point", "filled": true, "size": 16, "opacity": 1},
          "encoding": {"x": {"field": "t", "type": "quantitative"}, "y": {"field": "v", "type": "quantitative"}, "color": {"field": "s", "type": "nominal", "legend": null}}
        },
        {
          "data": {"name": "kinC"},
          "transform": [{"filter": "datum.k !== 'dots'"}],
          "mark": {"type": "line", "color": "#000", "strokeWidth": 1.6, "interpolate": "monotone"},
          "encoding": {"x": {"field": "t", "type": "quantitative"}, "y": {"field": "v", "type": "quantitative"}, "detail": [{"field": "s"}, {"field": "seg"}]}
        },
        {
          "data": {"values": [{"t": 0, "t2": 2000}, {"t": 2001, "t2": 300000}]},
          "mark": {"type": "rule", "strokeWidth": 2, "color": "#000"},
          "encoding": {"x": {"field": "t", "type": "quantitative"}, "x2": {"field": "t2"}, "y": {"datum": 0}}
        },
        {
          "data": {"values": [{"t": 2000, "side": "left"}, {"t": 2001, "side": "right"}]},
          "mark": {"type": "point", "filled": false, "color": "#000", "strokeWidth": 1.4, "opacity": 1, "size": 1300},
          "encoding": {"x": {"field": "t", "type": "quantitative"}, "y": {"datum": 0},
            "shape": {"field": "side", "type": "nominal", "scale": {"domain": ["left", "right"], "range": ["M -0.64 0.97 L 0.64 -0.97", "M -1.03 0.92 L 1.03 -0.92"]}, "legend": null}}
        },
        {
          "data": {"values": [{"label": "C", "t": -836, "v": 1.162}]},
          "mark": {"type": "text", "fontSize": 26, "fontWeight": "bold", "align": "center", "baseline": "middle", "color": "#000"},
          "encoding": {"x": {"field": "t", "type": "quantitative"}, "y": {"field": "v", "type": "quantitative"}, "text": {"field": "label"}}
        }
      ]
    },
    {
      "layer": [
        {
          "data": {"name": "kinD"},
          "transform": [{"filter": "datum.k === 'band'"}],
          "mark": {"type": "line", "strokeWidth": 6, "strokeCap": "round", "interpolate": "monotone"},
          "encoding": {
            "x": {"field": "t", "type": "quantitative",
              "scale": {"domain": [0, 2000, 2001, 300000], "range": [91, 280, 317, 616], "nice": false, "zero": false},
              "axis": {"orient": "bottom", "offset": -75, "values": [0, 1000, 2000, 100000, 200000, 300000], "format": "d", "labelAngle": -30, "labelAlign": "right", "labelBaseline": "top", "domain": false, "title": "Time (sec)", "labelPadding": 5, "titlePadding": -16}},
            "y": {"field": "v", "type": "quantitative",
              "scale": {"domain": [0, 1.05], "range": [1162, 956], "nice": false, "zero": false},
              "axis": {"orient": "left", "offset": -91, "values": [0, 0.2, 0.4, 0.6, 0.8, 1], "format": ".1f", "title": "Normalized abs.", "labelPadding": 9, "titlePadding": 6}},
            "color": {"field": "s", "type": "nominal", "scale": {"domain": ["green", "red", "blue", "gray", "cyan", "orange"], "range": ["#35c435", "#e0262b", "#1e2ad0", "#8c8c8c", "#3fe0e0", "#f2955a"]}, "legend": null},
            "detail": {"field": "seg"}
          }
        },
        {
          "data": {"name": "kinD"},
          "transform": [{"filter": "datum.k === 'dots'"}],
          "mark": {"type": "point", "filled": true, "size": 16, "opacity": 1},
          "encoding": {"x": {"field": "t", "type": "quantitative"}, "y": {"field": "v", "type": "quantitative"}, "color": {"field": "s", "type": "nominal", "legend": null}}
        },
        {
          "data": {"name": "kinD"},
          "transform": [{"filter": "datum.k !== 'dots'"}],
          "mark": {"type": "line", "color": "#000", "strokeWidth": 1.6, "interpolate": "monotone"},
          "encoding": {"x": {"field": "t", "type": "quantitative"}, "y": {"field": "v", "type": "quantitative"}, "detail": [{"field": "s"}, {"field": "seg"}]}
        },
        {
          "data": {"values": [{"t": 0, "t2": 2000}, {"t": 2001, "t2": 300000}]},
          "mark": {"type": "rule", "strokeWidth": 2, "color": "#000"},
          "encoding": {"x": {"field": "t", "type": "quantitative"}, "x2": {"field": "t2"}, "y": {"datum": 0}}
        },
        {
          "data": {"values": [{"t": 2000, "side": "left"}, {"t": 2001, "side": "right"}]},
          "mark": {"type": "point", "filled": false, "color": "#000", "strokeWidth": 1.4, "opacity": 1, "size": 1600},
          "encoding": {"x": {"field": "t", "type": "quantitative"}, "y": {"datum": 0},
            "shape": {"field": "side", "type": "nominal", "scale": {"domain": ["left", "right"], "range": ["M 0 0 L 1 -0.95", "M -0.925 0.97 L 0.925 -0.97"]}, "legend": null}}
        },
        {
          "data": {"values": [{"label": "D", "t": -836, "v": 1.096}]},
          "mark": {"type": "text", "fontSize": 26, "fontWeight": "bold", "align": "center", "baseline": "middle", "color": "#000"},
          "encoding": {"x": {"field": "t", "type": "quantitative"}, "y": {"field": "v", "type": "quantitative"}, "text": {"field": "label"}}
        }
      ]
    }
  ],
  "resolve": {
    "scale": {"x": "independent", "y": "independent", "color": "independent", "shape": "independent"},
    "axis": {"x": "independent", "y": "independent"}
  }
}
